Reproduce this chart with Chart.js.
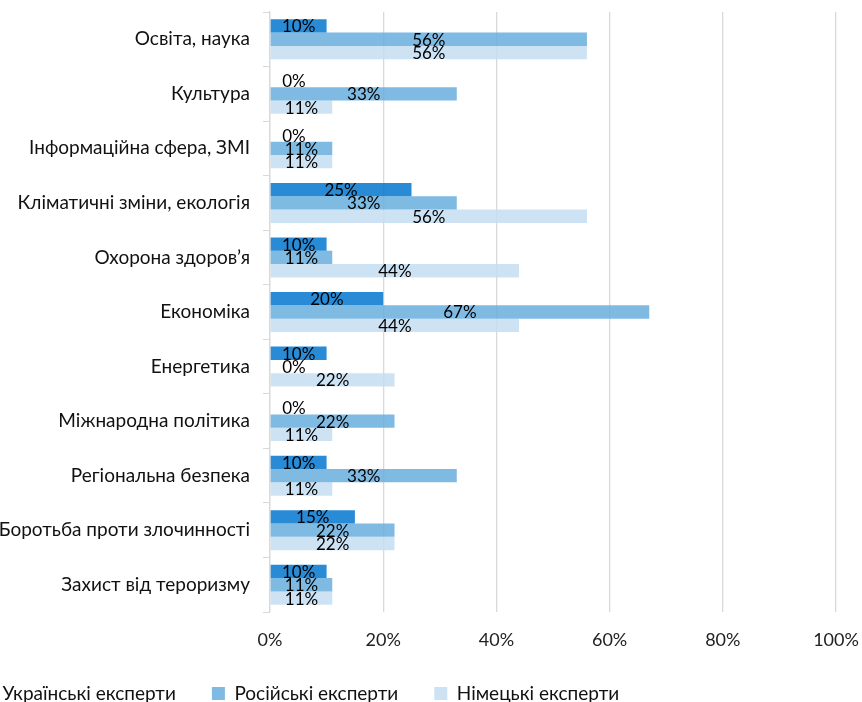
<!DOCTYPE html>
<html><head><meta charset="utf-8">
<script src="https://cdn.jsdelivr.net/npm/chart.js@4"></script>
<style>
html,body{margin:0;padding:0;background:#fff;overflow:hidden;width:862px;height:702px;}
#wrap{position:absolute;left:-56px;top:0;width:918px;height:702px;}
</style>
</head><body><div id="wrap"><canvas id="c"></canvas></div>
<script>
const categories = ['Освіта, наука','Культура','Інформаційна сфера, ЗМІ','Кліматичні зміни, екологія','Охорона здоров’я','Економіка','Енергетика','Міжнародна політика','Регіональна безпека','Боротьба проти злочинності','Захист від тероризму'];
const ukrainianExperts = [10,0,0,25,10,20,10,0,10,15,10];
const russianExperts = [56,33,11,33,11,67,0,22,33,22,11];
const germanExperts = [56,11,11,56,44,44,22,11,11,22,11];
const seriesNames = ['Українські експерти','Російські експерти','Німецькі експерти'];
const xTickValues = [0,20,40,60,80,100];

const FONT = 'Lato';

const valueLabels = {
  id:'valueLabels',
  afterDatasetsDraw(chart){
    const ctx = chart.ctx; ctx.save();
    ctx.font = '17px ' + FONT; ctx.fillStyle = '#000';
    ctx.textAlign = 'center'; ctx.textBaseline = 'middle';
    chart.data.datasets.forEach((ds,i)=>{
      const meta = chart.getDatasetMeta(i);
      meta.data.forEach((el,j)=>{
        const v = ds.data[j];
        let x = (el.x + el.base)/2;
        if (v === 0) x = el.base + 24;
        ctx.fillText(v + '%', x, el.y + 1);
      });
    });
    ctx.restore();
  }
};

const legendShift = {
  id:'legendShift',
  afterLayout(chart){
    const lg = chart.legend;
    if (!lg) return;
    const h = lg.height;
    lg.top = 648; lg.bottom = 648 + h;
  }
};

new Chart(document.getElementById('c'), {
  type:'bar',
  data:{
    labels: categories,
    datasets:[
      {label: seriesNames[0], data: ukrainianExperts, backgroundColor:'rgba(4,118,206,0.85)'},
      {label: seriesNames[1], data: russianExperts, backgroundColor:'rgba(104,174,222,0.85)'},
      {label: seriesNames[2], data: germanExperts, backgroundColor:'rgba(196,222,242,0.85)'}
    ]
  },
  options:{
    indexAxis:'y',
    responsive:true, maintainAspectRatio:false, animation:false,
    datasets:{bar:{barPercentage:1, categoryPercentage:0.733, borderWidth:0}},
    layout:{padding:{top:12, right:26, bottom:-15, left:0}},
    scales:{
      x:{
        min:0, max:100,
        afterBuildTicks: s => { s.ticks = xTickValues.map(v=>({value:v})); },
        afterFit: s => { s.height = 40; s.paddingLeft = 0; s.paddingRight = 0; },
        grid:{color:'#d9d9d9', drawTicks:false, lineWidth:1.3},
        border:{display:false},
        ticks:{padding:17, color:'#222', font:{family:FONT, size:18}, callback: v => v + '%'}
      },
      y:{
        afterFit: s => { s.width = 326; s.paddingTop = 0; s.paddingBottom = 0; },
        grid:{drawOnChartArea:false, drawTicks:true, tickLength:7, color:'#d9d9d9', offset:true},
        border:{color:'#d9d9d9', width:1.3},
        ticks:{padding:13, color:'#111', font:{family:FONT, size:19}}
      }
    },
    plugins:{
      legend:{
        position:'bottom', align:'start',
        labels:{boxWidth:13, boxHeight:13, padding:36, color:'#111', font:{family:FONT, size:19}}
      },
      tooltip:{enabled:false}
    }
  },
  plugins:[valueLabels, legendShift]
});
</script>
</body></html>
